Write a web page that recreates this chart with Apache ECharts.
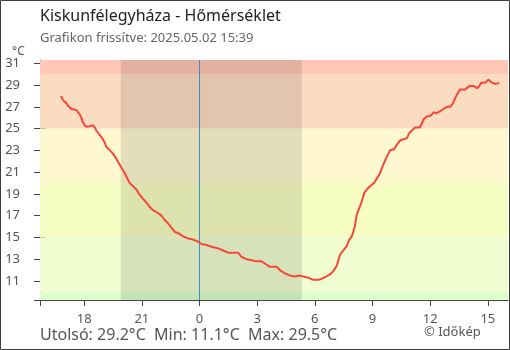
<!DOCTYPE html>
<html>
<head>
<meta charset="utf-8">
<script src="https://cdn.jsdelivr.net/npm/echarts@6/dist/echarts.min.js"></script>
<style>
  html, body { margin: 0; padding: 0; background: #fff; }
  #chart { width: 510px; height: 350px; }
</style>
</head>
<body>
<div id="chart"></div>
<script>
// Hourly offsets from midnight (negative = previous evening) and measured temperatures
const hours = [
  -7.21, -7.10, -6.96, -6.84, -6.67, -6.58, -6.41, -6.27, -6.17, -6.09,
  -6.01, -5.92, -5.75, -5.54, -5.45, -5.36, -5.23, -5.09, -4.93, -4.84,
  -4.67, -4.50, -4.32, -4.19, -4.06, -3.89, -3.72, -3.63, -3.46, -3.28,
  -3.15, -2.97, -2.76, -2.59, -2.42, -2.21, -1.98, -1.81, -1.64, -1.46,
  -1.29, -1.11, -0.85, -0.59, -0.33, -0.07, 0.10, 0.36, 0.71, 0.97,
  1.23, 1.49, 1.75, 2.01, 2.19, 2.45, 2.71, 2.97, 3.23, 3.40,
  3.66, 4.01, 4.18, 4.44, 4.70, 4.96, 5.23, 5.40, 5.66, 5.92,
  6.18, 6.35, 6.58, 6.79, 6.96, 7.14, 7.31, 7.48, 7.66, 7.79,
  7.92, 8.00, 8.09, 8.18, 8.31, 8.44, 8.57, 8.70, 8.87, 9.08,
  9.22, 9.39, 9.56, 9.74, 9.91, 10.12, 10.26, 10.43, 10.57, 10.78,
  10.92, 11.09, 11.21, 11.47, 11.56, 11.68, 11.82, 12.05, 12.17, 12.31,
  12.52, 12.69, 12.86, 13.04, 13.18, 13.30, 13.42, 13.56, 13.82, 14.04,
  14.29, 14.43, 14.56, 14.64, 14.86, 15.03, 15.16, 15.26, 15.38, 15.60
];
const temps = [
  28.0, 27.6, 27.4, 27.1, 26.8, 26.7, 26.7, 26.4, 26.1, 25.7,
  25.4, 25.2, 25.2, 25.3, 25.1, 24.8, 24.5, 24.2, 23.7, 23.3,
  23.0, 22.7, 22.2, 21.8, 21.4, 20.9, 20.3, 20.0, 19.7, 19.4,
  19.0, 18.6, 18.2, 17.8, 17.5, 17.3, 17.0, 16.6, 16.3, 15.9,
  15.5, 15.4, 15.1, 14.9, 14.8, 14.6, 14.4, 14.3, 14.1, 14.0,
  13.8, 13.6, 13.6, 13.6, 13.2, 13.0, 12.9, 12.8, 12.8, 12.6,
  12.3, 12.3, 12.0, 11.7, 11.5, 11.4, 11.5, 11.4, 11.3, 11.1,
  11.1, 11.2, 11.4, 11.6, 11.9, 12.4, 13.4, 13.8, 14.2, 14.8,
  15.1, 15.5, 16.1, 17.1, 17.7, 18.3, 19.1, 19.4, 19.7, 20.0,
  20.4, 20.9, 21.7, 22.4, 23.0, 23.1, 23.5, 23.9, 24.0, 24.1,
  24.6, 24.9, 25.1, 25.1, 25.2, 25.9, 26.1, 26.2, 26.5, 26.4,
  26.6, 26.8, 27.0, 27.0, 27.3, 27.8, 28.2, 28.6, 28.6, 28.9,
  28.9, 28.7, 28.9, 29.2, 29.2, 29.5, 29.3, 29.4, 29.1, 29.2
];

// Axis ticks
const xTicks = [-6, -3, 0, 3, 6, 9, 12, 15];
const yTicks = [11, 13, 15, 17, 19, 21, 23, 25, 27, 29, 31];

// Temperature comfort bands [from, to, colour]
const bandFrom = [-5, 10, 15, 20, 25, 30];
const bandTo = [10, 15, 20, 25, 30, 40];
const bandColors = ['#ddfdca', '#effdd0', '#f5fdc3', '#fef7cf', '#fcdcc0', '#fec6b3'];

// Night (sunset .. sunrise) in hours from midnight
const nightStart = -4.1;
const nightEnd = 5.33;
const midnight = 0;

const title = 'Kiskunfélegyháza - Hőmérséklet';
const subtitle = 'Grafikon frissítve: 2025.05.02 15:39';
const lastTemp = 29.2, minTemp = 11.1, maxTemp = 29.5;

const xMin = -8.30, xMax = 16.05;
const yMin = 9.25, yMax = 31.3;

const FONT = '"Noto Sans", "Open Sans", sans-serif';
const hourLabel = v => String(((Math.round(v) % 24) + 24) % 24);
const fmt = v => v.toFixed(1);

const chart = echarts.init(document.getElementById('chart'), null, { renderer: 'canvas' });

const baseX = { type: 'value', min: xMin, max: xMax, splitLine: { show: false } };
const baseY = { type: 'value', min: yMin, max: yMax, splitLine: { show: false } };

chart.setOption({
  animation: false,
  backgroundColor: '#fff',
  grid: { left: 40, top: 60, right: 2, bottom: 50 },
  xAxis: [
    Object.assign({}, baseX, {
      axisLine: { show: true, onZero: false, lineStyle: { color: '#444', width: 1 } },
      axisTick: { show: true, length: 6, lineStyle: { color: '#444' }, customValues: [xMin].concat(xTicks) },
      axisLabel: {
        show: true, customValues: xTicks, formatter: hourLabel,
        color: '#555', fontSize: 13, fontFamily: FONT, margin: 13
      }
    }),
    Object.assign({}, baseX, {
      position: 'bottom',
      axisLine: { show: false, onZero: false },
      axisTick: { show: true, inside: true, length: 6, lineStyle: { color: '#444' }, customValues: xTicks },
      axisLabel: { show: false }
    })
  ],
  yAxis: [
    Object.assign({}, baseY, {
      axisLine: { show: true, onZero: false, lineStyle: { color: '#444', width: 1 } },
      axisTick: { show: true, length: 6, lineStyle: { color: '#444' }, customValues: [yMin].concat(yTicks) },
      axisLabel: {
        show: true, customValues: yTicks,
        color: '#555', fontSize: 13, fontFamily: FONT, margin: 20
      }
    }),
    Object.assign({}, baseY, {
      position: 'left',
      axisLine: { show: false, onZero: false },
      axisTick: { show: true, inside: true, length: 6, lineStyle: { color: '#444' }, customValues: yTicks },
      axisLabel: { show: false }
    })
  ],
  series: [
    {
      // temperature bands
      type: 'line', data: [], z: 1, silent: true,
      markArea: {
        silent: true,
        label: { show: false },
        data: bandFrom.map((f, i) => [
          { yAxis: Math.max(f, yMin), itemStyle: { color: bandColors[i] } },
          { yAxis: Math.min(bandTo[i], yMax) }
        ])
      }
    },
    {
      // night shading
      type: 'line', data: [], z: 2, silent: true,
      markArea: {
        silent: true,
        label: { show: false },
        itemStyle: { color: 'rgba(0,0,0,0.1)' },
        data: [[{ xAxis: nightStart }, { xAxis: nightEnd }]]
      }
    },
    {
      // midnight marker
      type: 'line', z: 3, silent: true,
      showSymbol: false,
      color: '#3a8cc9',
      lineStyle: { color: '#3a8cc9', width: 1 },
      data: [[midnight, yMin], [midnight, yMax]]
    },
    {
      name: 'Hőmérséklet',
      type: 'line', z: 4,
      showSymbol: false, smooth: false,
      color: '#f7473a',
      lineStyle: { color: '#f7473a', width: 2 },
      data: hours.map((h, i) => [h, temps[i]])
    }
  ],
  graphic: [
    {
      type: 'rect', silent: true, z: 100,
      shape: { x: 0.5, y: 0.5, width: 509, height: 349 },
      style: { fill: null, stroke: '#3c3c3c', lineWidth: 1 }
    },
    {
      type: 'text', left: 40, top: 8,
      style: { text: title, fill: '#222', font: '16px ' + FONT }
    },
    {
      type: 'text', left: 40, top: 32,
      style: { text: subtitle, fill: '#666', font: '13px ' + FONT }
    },
    {
      type: 'text', left: 12, top: 46,
      style: { text: '°C', fill: '#555', font: '12px ' + FONT }
    },
    {
      type: 'text', left: 40, top: 327,
      style: {
        text: 'Utolsó: ' + fmt(lastTemp) + '°C  Min: ' + fmt(minTemp) + '°C  Max: ' + fmt(maxTemp) + '°C',
        fill: '#555', font: '16px ' + FONT
      }
    },
    {
      type: 'text', left: 424, top: 326,
      style: { text: '© Időkép', fill: '#555', font: '13px ' + FONT }
    }
  ]
});
</script>
</body>
</html>
